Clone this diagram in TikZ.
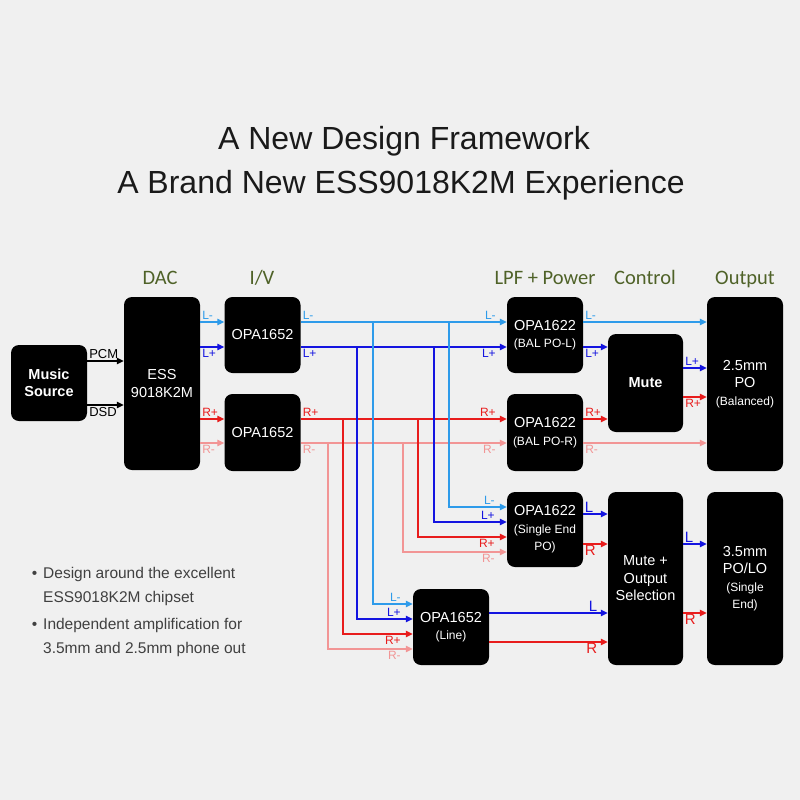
\documentclass[tikz,border=0pt]{standalone}
\usepackage{fontspec}
\setmainfont{Liberation Sans}
\newfontfamily\headfont{Carlito}
\usetikzlibrary{arrows.meta}
\definecolor{bgGray}{HTML}{F0F0F0}
\definecolor{headOlive}{HTML}{4F6228}
\definecolor{titleInk}{HTML}{1A1A1A}
\definecolor{bulletInk}{HTML}{404040}
\definecolor{sigLm}{HTML}{2E9BEA}
\definecolor{sigLp}{HTML}{1414E0}
\definecolor{sigRp}{HTML}{E81C1C}
\definecolor{sigRm}{HTML}{F29595}
\newcommand{\boxfont}{\fontsize{14.5}{17.5}\selectfont}
\newcommand{\subfont}{\fontsize{12}{16}\selectfont}
\tikzset{
  blk/.style={rectangle, rounded corners=8pt, fill=black, text=white,
              align=center, font=\boxfont, inner sep=0pt,
              minimum width=76pt},
  head/.style={font=\headfont\fontsize{20.5}{24}\selectfont, text=headOlive, anchor=base},
  title/.style={font=\fontsize{32}{36}\selectfont, text=titleInk, anchor=base},
  bul/.style={font=\fontsize{15.5}{24}\selectfont, text=bulletInk, anchor=west,
              align=left, inner sep=0pt},
  sig/.style={-{Triangle[length=7pt,width=6.5pt]}, line width=1.2pt},
  lbl/.style={font=\fontsize{12}{13}\selectfont, inner sep=1.5pt},
  big/.style={font=\fontsize{15}{16}\selectfont, inner sep=1pt},
  lm/.style={sigLm}, lp/.style={sigLp}, rp/.style={sigRp}, rm/.style={sigRm},
}

\begin{document}
\begin{tikzpicture}[x=1pt, y=-1pt]
  \fill[bgGray] (0,0) rectangle (800,800);

  % titles and column heads
  \node[title] (t1) at (404,149) {A New Design Framework};
  \node[title] (t2) at (401,193) {A Brand New ESS9018K2M Experience};
  \node[head] (hDac) at (160,284) {DAC};
  \node[head] (hIv)  at (262,284) {I/V};
  \node[head] (hLpf) at (545,284) {LPF + Power};
  \node[head] (hCtl) at (645,284) {Control};
  \node[head] (hOut) at (745,284) {Output};

  % blocks
  \node[blk, minimum height=76pt, font=\boxfont\bfseries] (src) at (49,383) {Music\\Source};
  \node[blk, minimum height=173pt] (dac) at (162,383.5) {ESS\\9018K2M};
  \node[blk, minimum height=76pt] (iv1) at (262.5,335) {OPA1652};
  \node[blk, minimum height=77pt] (iv2) at (262.5,432.5) {OPA1652};
  \node[blk, minimum height=76pt] (lpfl) at (545,335) {OPA1622\\{\subfont (BAL PO-L)}};
  \node[blk, minimum height=77pt] (lpfr) at (545,432.5) {OPA1622\\{\subfont (BAL PO-R)}};
  \node[blk, minimum height=98pt, minimum width=75pt, font=\boxfont\bfseries] (mute) at (645.5,383) {Mute};
  \node[blk, minimum height=174pt] (bal) at (745,384) {2.5mm\\PO\\{\subfont (Balanced)}};
  \node[blk, minimum height=75pt] (lpfse) at (545,529.5) {OPA1622\\{\subfont (Single End}\\{\subfont PO)}};
  \node[blk, minimum height=76pt] (line) at (451,627) {OPA1652\\{\subfont (Line)}};
  \node[blk, minimum height=173pt, minimum width=75pt] (sel) at (645.5,578.5) {Mute +\\Output\\Selection};
  \node[blk, minimum height=173pt] (se) at (745,578.5) {3.5mm\\PO/LO\\{\subfont (Single}\\{\subfont End)}};

  % source -> DAC
  \draw[sig, black] (src.east |- 0,361) -- node[pos=0, above right, lbl, font=\fontsize{13}{14}\selectfont]{PCM} (dac.west |- 0,361);
  \draw[sig, black] (src.east |- 0,405) -- node[pos=0, below right, lbl, font=\fontsize{13}{14}\selectfont]{DSD} (dac.west |- 0,405);

  % DAC -> I/V
  \draw[sig, lm] (dac.east |- 0,322) -- node[pos=0, above right, lbl]{L-} (iv1.west |- 0,322);
  \draw[sig, lp] (dac.east |- 0,347) -- node[pos=0, below right, lbl]{L+} (iv1.west |- 0,347);
  \draw[sig, rp] (dac.east |- 0,419) -- node[pos=0, above right, lbl]{R+} (iv2.west |- 0,419);
  \draw[sig, rm] (dac.east |- 0,443) -- node[pos=0, below right, lbl]{R-} (iv2.west |- 0,443);

  % I/V -> balanced LPF
  \draw[sig, lm] (iv1.east |- 0,322) -- node[pos=0, above right, lbl]{L-}
    node[pos=1, above left, lbl, xshift=-9pt]{L-} (lpfl.west |- 0,322);
  \draw[sig, lp] (iv1.east |- 0,347) -- node[pos=0, below right, lbl]{L+}
    node[pos=1, below left, lbl, xshift=-9pt]{L+} (lpfl.west |- 0,347);
  \draw[sig, rp] (iv2.east |- 0,419) -- node[pos=0, above right, lbl]{R+}
    node[pos=1, above left, lbl, xshift=-9pt]{R+} (lpfr.west |- 0,419);
  \draw[sig, rm] (iv2.east |- 0,443) -- node[pos=0, below right, lbl]{R-}
    node[pos=1, below left, lbl, xshift=-9pt]{R-} (lpfr.west |- 0,443);

  % taps to single end and line stages
  \coordinate (lmSe) at (449,322);  \coordinate (lmLn) at (373,322);
  \coordinate (lpSe) at (434,347);  \coordinate (lpLn) at (357,347);
  \coordinate (rpSe) at (418,419);  \coordinate (rpLn) at (343,419);
  \coordinate (rmSe) at (403,443);  \coordinate (rmLn) at (328,443);
  \draw[sig, lm] (lmSe) |- node[pos=1, above left, lbl, xshift=-10pt]{L-} (lpfse.west |- 0,507);
  \draw[sig, lp] (lpSe) |- node[pos=1, above left, lbl, xshift=-10pt]{L+} (lpfse.west |- 0,522);
  \draw[sig, rp] (rpSe) |- node[pos=1, below left, lbl, xshift=-10pt]{R+} (lpfse.west |- 0,537);
  \draw[sig, rm] (rmSe) |- node[pos=1, below left, lbl, xshift=-10pt]{R-} (lpfse.west |- 0,552);
  \draw[sig, lm] (lmLn) |- node[pos=1, above left, lbl, xshift=-10pt]{L-} (line.west |- 0,604);
  \draw[sig, lp] (lpLn) |- node[pos=1, above left, lbl, xshift=-10pt]{L+} (line.west |- 0,619);
  \draw[sig, rp] (rpLn) |- node[pos=1, below left, lbl, xshift=-10pt]{R+} (line.west |- 0,634);
  \draw[sig, rm] (rmLn) |- node[pos=1, below left, lbl, xshift=-10pt]{R-} (line.west |- 0,649);

  % balanced outputs
  \draw[sig, lm] (lpfl.east |- 0,322) -- node[pos=0, above right, lbl]{L-} (bal.west |- 0,322);
  \draw[sig, lp] (lpfl.east |- 0,347) -- node[pos=0, below right, lbl]{L+} (mute.west |- 0,347);
  \draw[sig, rp] (lpfr.east |- 0,419) -- node[pos=0, above right, lbl]{R+} (mute.west |- 0,419);
  \draw[sig, rm] (lpfr.east |- 0,443) -- node[pos=0, below right, lbl]{R-} (bal.west |- 0,443);
  \draw[sig, lp] (mute.east |- 0,368) -- node[pos=0, above right, lbl]{L+} (bal.west |- 0,368);
  \draw[sig, rp] (mute.east |- 0,397) -- node[pos=0, below right, lbl]{R+} (bal.west |- 0,397);

  % single end outputs
  \draw[sig, lp] (lpfse.east |- 0,514) -- node[pos=0, above right, big]{L} (sel.west |- 0,514);
  \draw[sig, rp] (lpfse.east |- 0,544) -- node[pos=0, below right, big]{R} (sel.west |- 0,544);
  \draw[sig, lp] (line.east |- 0,613) -- node[pos=1, above left, big, xshift=-9pt]{L} (sel.west |- 0,613);
  \draw[sig, rp] (line.east |- 0,642) -- node[pos=1, below left, big, xshift=-9pt]{R} (sel.west |- 0,642);
  \draw[sig, lp] (sel.east |- 0,544) -- node[pos=0, above right, big]{L} (se.west |- 0,544);
  \draw[sig, rp] (sel.east |- 0,613) -- node[pos=0, below right, big]{R} (se.west |- 0,613);

  % notes
  \node[bul] (b1) at (43,586) {\llap{\textbullet\hspace{6pt}}Design around the excellent\\ESS9018K2M chipset};
  \node[bul] (b2) at (43,637) {\llap{\textbullet\hspace{6pt}}Independent amplification for\\3.5mm and 2.5mm phone out};
\end{tikzpicture}
\end{document}
